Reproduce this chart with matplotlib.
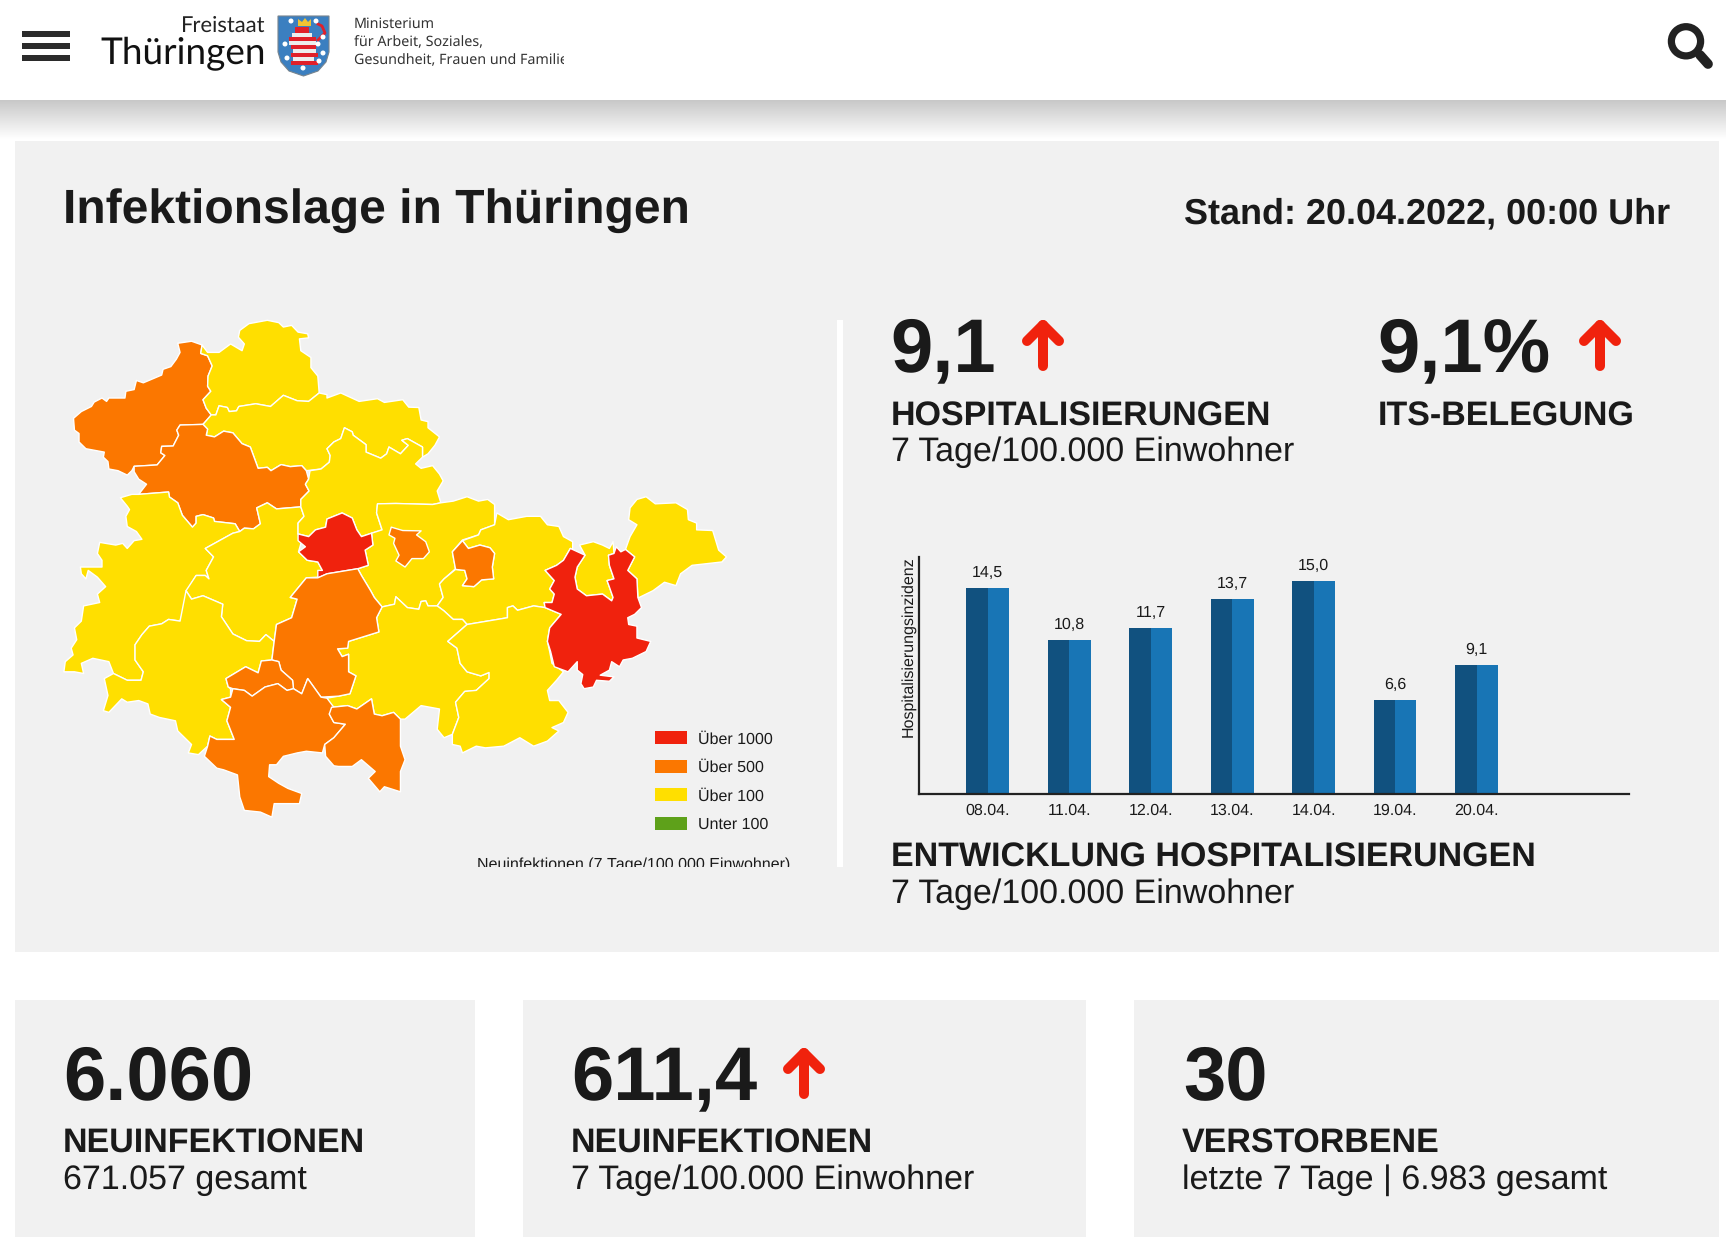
import numpy as np
import matplotlib
matplotlib.use("Agg")
import matplotlib.pyplot as plt
from matplotlib.patches import Polygon, Rectangle, Circle

W, H = 1726, 1245
FONT = "Liberation Sans"
INK = "#1A1A1A"
BG = "#F1F1F1"
RED, ORANGE, YELLOW, GREEN = "#F0220D", "#FB7700", "#FFDF00", "#5EA11A"

# ---- bar chart data
dates = ["08.04.", "11.04.", "12.04.", "13.04.", "14.04.", "19.04.", "20.04."]
hosp_values = [14.5, 10.8, 11.7, 13.7, 15.0, 6.6, 9.1]

# ---- legend
legend_labels = ["Über 1000", "Über 500", "Über 100", "Unter 100"]
legend_colors = [RED, ORANGE, YELLOW, GREEN]

# ---- map: district outlines (map units)
eichsfeld = [(300,128),(330,122),(353,133),(350,158),(365,165),(375,195),(366,225),(365,255),(372,270),(355,295),(362,320),(373,340),(355,368),(305,370),(298,385),(302,400),(290,432),(265,433),(263,452),(272,460),(255,488),(205,492),(200,505),(190,518),(170,505),(150,500),(148,478),(138,465),(140,450),(100,440),(85,420),(85,395),(75,385),(73,350),(90,330),(112,315),(118,302),(135,290),(145,300),(150,290),(185,290),(187,270),(205,265),(210,238),(225,245),(265,222),(268,205),(285,197),(297,175),(305,155)]
nordhausen = [(353,133),(365,155),(390,155),(415,130),(440,150),(445,130),(432,110),(435,90),(455,70),(495,60),(520,67),(530,80),(548,75),(562,95),(583,100),(585,112),(565,115),(568,150),(590,170),(590,200),(605,225),(608,275),(585,300),(560,298),(530,282),(502,315),(470,307),(433,315),(428,328),(412,330),(408,318),(390,313),(383,340),(373,340),(362,320),(355,295),(372,270),(365,255),(366,225),(375,195),(365,165),(350,158)]
kyffhaeuser = [(355,368),(373,340),(383,340),(390,313),(408,318),(412,330),(428,328),(433,315),(470,307),(502,315),(530,282),(560,298),(585,300),(608,275),(625,280),(625,290),(655,275),(695,300),(735,292),(750,303),(790,295),(803,317),(825,318),(830,355),(845,360),(845,378),(870,405),(860,430),(845,455),(833,465),(833,435),(800,410),(788,415),(802,430),(785,455),(760,435),(755,455),(742,468),(710,450),(710,428),(682,400),(680,390),(663,378),(655,410),(640,420),(625,440),(632,460),(630,480),(612,500),(580,505),(570,490),(545,493),(525,487),(503,505),(495,495),(475,498),(458,435),(440,425),(420,393),(400,388),(380,405),(362,400),(365,382)]
unstrut = [(355,368),(365,382),(362,400),(380,405),(400,388),(420,393),(440,425),(458,435),(475,498),(495,495),(503,505),(525,487),(545,493),(570,490),(580,505),(585,530),(578,545),(586,565),(568,590),(568,612),(515,618),(495,600),(472,615),(480,662),(465,677),(445,675),(435,685),(425,662),(380,655),(378,645),(355,635),(340,640),(340,660),(332,672),(310,637),(300,600),(282,583),(280,568),(215,575),(232,545),(215,530),(205,508),(205,492),(255,488),(272,460),(263,452),(265,433),(290,432),(302,400),(298,385),(305,370)]
wartburg = [(215,575),(200,575),(175,585),(190,610),(195,620),(187,640),(190,670),(210,685),(222,708),(205,712),(190,735),(180,720),(165,725),(130,717),(125,750),(135,770),(135,790),(105,790),(88,790),(90,810),(100,825),(105,800),(125,820),(143,848),(125,870),(130,895),(95,905),(90,950),(75,970),(80,1005),(68,1030),(72,1050),(55,1070),(52,1100),(75,1100),(95,1105),(90,1075),(115,1060),(150,1070),(160,1105),(190,1125),(220,1125),(225,1100),(207,1065),(207,1020),(222,990),(238,965),(265,958),(280,945),(305,950),(318,890),(320,860),(340,815),(360,815),(368,825),(362,800),(378,760),(360,735),(420,690),(435,685),(425,662),(380,655),(378,645),(355,635),(340,640),(340,660),(332,672),(310,637),(300,600),(282,583),(280,568)]
gotha = [(435,685),(445,675),(465,677),(480,662),(472,615),(495,600),(515,618),(568,612),(575,640),(562,660),(562,690),(570,712),(563,745),(582,770),(605,775),(615,800),(605,820),(580,822),(545,880),(560,885),(548,940),(515,960),(510,1010),(492,990),(478,1010),(450,1008),(420,988),(395,937),(398,900),(355,875),(330,885),(318,860),(340,815),(360,815),(368,825),(362,800),(378,760),(360,735),(420,690)]
erfurt = [(658,630),(680,645),(690,680),(700,700),(722,690),(725,725),(708,740),(715,785),(692,795),(625,810),(605,822),(605,800),(615,800),(605,775),(582,770),(563,745),(578,730),(562,712),(562,692),(585,700),(600,680),(622,672),(625,648)]
soemmerda = [(663,378),(680,390),(682,400),(710,428),(710,450),(742,468),(755,455),(760,435),(785,455),(802,430),(788,415),(800,410),(833,435),(833,465),(818,485),(830,498),(855,490),(870,515),(878,535),(865,565),(873,600),(855,605),(775,602),(735,603),(733,630),(745,680),(722,690),(700,700),(690,680),(680,645),(658,630),(625,648),(622,672),(600,680),(585,700),(562,692),(562,660),(575,640),(568,612),(568,590),(586,565),(578,545),(585,530),(588,505),(612,500),(630,480),(632,460),(625,440),(640,420),(655,410)]
weimarer_land = [(735,603),(775,602),(855,605),(873,600),(900,595),(930,582),(955,595),(975,590),(990,605),(990,665),(960,680),(955,695),(920,710),(898,745),(905,795),(880,825),(870,840),(878,880),(865,905),(845,905),(840,890),(830,892),(825,915),(800,910),(775,878),(772,900),(745,908),(728,880),(720,860),(700,815),(692,795),(715,785),(708,740),(725,725),(722,690),(745,680),(733,630)]
weimar = [(765,672),(790,682),(830,683),(820,695),(840,715),(848,745),(835,765),(810,765),(795,790),(775,772),(782,755),(770,720),(773,705),(760,695)]
jena = [(920,712),(933,735),(958,725),(980,733),(990,750),(985,790),(988,825),(962,828),(945,848),(920,845),(930,825),(925,800),(905,797),(898,745)]
saale_holzland = [(990,665),(995,630),(1020,650),(1060,640),(1090,640),(1105,665),(1130,670),(1140,700),(1160,715),(1160,740),(1155,735),(1140,770),(1125,785),(1100,800),(1120,830),(1110,855),(1120,870),(1115,895),(1098,895),(1100,910),(1075,905),(1040,918),(1030,905),(1018,910),(1018,940),(930,960),(920,945),(900,945),(880,920),(865,905),(878,880),(870,840),(880,825),(905,797),(925,800),(930,825),(920,845),(945,848),(962,828),(988,825),(985,790),(990,750),(980,733),(958,725),(933,735),(920,712),(955,695),(960,680)]
ilm_kreis = [(625,810),(692,795),(700,815),(720,860),(728,880),(745,908),(733,940),(738,982),(672,1010),(670,1030),(648,1032),(658,1055),(672,1048),(672,1100),(688,1112),(675,1165),(650,1172),(612,1175),(583,1120),(570,1165),(552,1150),(550,1125),(525,1095),(520,1070),(505,1065),(510,1010),(515,960),(548,940),(560,885),(545,880),(580,822),(605,822)]
schmalkalden = [(318,860),(330,885),(355,875),(398,900),(395,937),(420,988),(450,1008),(478,1010),(492,990),(510,1010),(505,1065),(482,1068),(475,1103),(448,1085),(405,1120),(410,1145),(415,1150),(415,1175),(395,1182),(415,1205),(407,1245),(423,1300),(385,1300),(370,1290),(365,1320),(345,1345),(323,1340),(330,1315),(300,1275),(295,1245),(260,1235),(240,1225),(235,1195),(215,1185),(190,1190),(178,1180),(150,1220),(138,1215),(148,1170),(140,1120),(160,1105),(190,1125),(220,1125),(225,1100),(207,1065),(207,1020),(222,990),(238,965),(265,958),(280,945),(305,950)]
suhl = [(405,1120),(448,1085),(475,1103),(482,1068),(505,1065),(520,1070),(525,1095),(550,1125),(552,1150),(538,1155),(518,1135),(490,1145),(462,1172),(445,1155),(420,1150),(410,1145)]
hildburghausen = [(420,1150),(445,1155),(462,1172),(490,1145),(518,1135),(538,1155),(552,1150),(570,1165),(583,1120),(612,1175),(625,1178),(640,1205),(630,1225),(640,1250),(665,1255),(640,1295),(620,1315),(615,1340),(580,1335),(560,1340),(530,1350),(515,1375),(500,1375),(498,1410),(520,1430),(540,1445),(570,1460),(565,1490),(540,1490),(510,1490),(505,1530),(480,1515),(445,1510),(435,1470),(430,1405),(400,1390),(385,1385),(358,1350),(365,1320),(370,1290),(385,1300),(423,1300),(407,1245),(415,1205),(395,1182),(415,1175)]
sonneberg = [(635,1205),(670,1200),(690,1210),(722,1180),(728,1225),(745,1230),(770,1220),(785,1240),(785,1320),(795,1360),(785,1395),(785,1455),(750,1440),(740,1455),(715,1415),(730,1395),(700,1360),(680,1380),(650,1380),(640,1378),(622,1350),(620,1315),(640,1295),(665,1255),(640,1250),(630,1225)]
saalfeld = [(745,908),(772,900),(775,878),(800,910),(825,915),(830,892),(840,890),(845,905),(865,905),(880,920),(900,945),(920,945),(930,960),(888,1010),(908,1030),(915,1075),(930,1100),(960,1112),(978,1102),(978,1120),(950,1155),(925,1158),(905,1190),(912,1235),(898,1285),(880,1295),(865,1270),(870,1210),(830,1200),(795,1240),(785,1240),(770,1220),(745,1230),(728,1225),(722,1180),(690,1210),(670,1200),(635,1205),(625,1178),(650,1172),(675,1165),(688,1112),(672,1100),(672,1048),(658,1055),(648,1032),(670,1030),(672,1010),(738,982),(733,940)]
saale_orla = [(930,960),(1018,940),(1018,910),(1030,905),(1040,918),(1075,905),(1100,910),(1135,930),(1110,970),(1105,1010),(1110,1040),(1115,1075),(1140,1100),(1125,1125),(1105,1155),(1110,1185),(1130,1185),(1150,1220),(1140,1250),(1115,1265),(1130,1275),(1105,1305),(1075,1320),(1045,1295),(1010,1320),(970,1325),(950,1320),(920,1340),(915,1320),(898,1315),(898,1285),(912,1235),(905,1190),(925,1158),(950,1155),(978,1120),(978,1102),(960,1112),(930,1100),(915,1075),(908,1030),(888,1010)]
greiz = [(1155,735),(1187,755),(1170,790),(1165,820),(1170,855),(1190,875),(1225,870),(1245,890),(1248,880),(1235,830),(1250,825),(1240,785),(1238,755),(1250,750),(1255,730),(1265,745),(1275,738),(1295,760),(1280,800),(1300,825),(1302,880),(1310,910),(1295,930),(1280,940),(1282,960),(1300,965),(1300,1000),(1330,1010),(1320,1040),(1290,1060),(1270,1065),(1262,1085),(1245,1070),(1240,1095),(1220,1110),(1250,1115),(1240,1128),(1212,1125),(1205,1145),(1185,1150),(1178,1135),(1182,1108),(1170,1095),(1170,1070),(1150,1100),(1120,1085),(1112,1040),(1105,1010),(1110,970),(1135,930),(1100,910),(1098,895),(1115,895),(1120,870),(1110,855),(1120,830),(1100,800),(1125,785),(1140,770)]
gera = [(1175,725),(1205,715),(1225,725),(1240,735),(1248,715),(1250,750),(1238,755),(1240,785),(1250,825),(1235,830),(1248,880),(1245,890),(1225,870),(1190,875),(1170,855),(1165,820),(1170,790),(1187,755)]
altenburg = [(1295,760),(1275,738),(1285,700),(1300,665),(1282,650),(1285,615),(1300,590),(1320,582),(1340,603),(1385,600),(1410,620),(1412,650),(1430,660),(1430,680),(1465,682),(1478,740),(1495,760),(1485,775),(1420,785),(1395,810),(1385,845),(1360,835),(1335,860),(1305,880),(1302,880),(1300,825),(1280,800)]

districts = [
    (eichsfeld, ORANGE), (nordhausen, YELLOW), (kyffhaeuser, YELLOW), (unstrut, ORANGE),
    (wartburg, YELLOW), (gotha, YELLOW), (soemmerda, YELLOW), (weimarer_land, YELLOW),
    (saale_holzland, YELLOW), (schmalkalden, YELLOW), (saalfeld, YELLOW), (saale_orla, YELLOW),
    (gera, YELLOW), (altenburg, YELLOW), (erfurt, RED), (weimar, ORANGE), (jena, ORANGE),
    (ilm_kreis, ORANGE), (suhl, ORANGE), (hildburghausen, ORANGE), (sonneberg, ORANGE),
    (greiz, RED),
]

plt.rcParams["font.family"] = [FONT, "DejaVu Sans"]
plt.rcParams["text.hinting"] = "no_hinting"
plt.rcParams["text.hinting_factor"] = 1
fig = plt.figure(figsize=(W / 100, H / 100), dpi=100, facecolor="white")


def px_axes(x0, y0, x1, y1):
    return fig.add_axes([x0 / W, 1 - y1 / H, (x1 - x0) / W, (y1 - y0) / H])


# ---- page canvas in pixels
page = fig.add_axes([0, 0, 1, 1])
page.axis("off")
grad = np.linspace(0, 1, 40).reshape(-1, 1)
page.imshow(grad, extent=(0, W, 140, 100), aspect="auto", cmap="gray",
            vmin=-3.6, vmax=1, interpolation="bilinear", zorder=0)
page.set_xlim(0, W)
page.set_ylim(H, 0)
for x0, y0, x1, y1 in [(15, 141, 1719, 952), (15, 1000, 475, 1237),
                       (523, 1000, 1086, 1237), (1134, 1000, 1719, 1237)]:
    page.add_patch(Rectangle((x0, y0), x1 - x0, y1 - y0, fc=BG, ec="none", zorder=1))
page.add_patch(Rectangle((837, 320), 6, 547, fc="white", ec="none", zorder=2))


def txt(x, y, s, size, bold=False, ha="left", color=INK, **kw):
    return page.text(x, y, s, fontsize=size, fontweight="bold" if bold else "normal",
                     ha=ha, va="baseline", color=color, zorder=5, **kw)


def arrow(x, top, bottom):
    w = 16
    for xs, ys in [([x, x], [top + 5, bottom - 5]),
                   ([x - w, x, x + w], [top + w + 5, top + 5, top + w + 5])]:
        page.plot(xs, ys, color=RED, lw=7.2, solid_capstyle="round",
                  solid_joinstyle="round", zorder=5)


# ---- header
for y in (31, 43, 55):
    page.add_patch(Rectangle((22, y), 48, 6, fc="#2B2B2B", ec="none", zorder=5))
txt(266, 32, "Freistaat", 15.5, ha="right", family="Lato", color="#222222")
page.text(266, 64, "Thüringen", fontsize=26.5, ha="right", va="baseline", family="Lato",
          color="#111111", zorder=5)
clip_rect = Rectangle((340, 0), 224, 100, transform=page.transData)
for yy, line in zip((28, 46.5, 64), ("Ministerium", "für Arbeit, Soziales,",
                                     "Gesundheit, Frauen und Familie")):
    t = txt(354, yy, line, 10.3, family="Noto Sans", color="#333333")
    t.set_clip_path(clip_rect)
    t.set_clip_on(True)

# coat of arms
shield_outline = [(278, 16), (329, 16), (329, 52), (326, 62), (318, 71), (303.5, 76),
                  (289, 71), (281, 62), (278, 52)]
shield = Polygon(shield_outline, closed=True, fc="#3B7FC0", ec="#77848E", lw=0.8, zorder=5)
page.add_patch(shield)
for y0, h, c, xa, xb in [(27, 6, "#E0202A", 295, 309), (33, 4, "#EDEDED", 292, 312),
                         (37, 4, "#E0202A", 289, 316), (41, 4, "#EDEDED", 289, 316),
                         (45, 4, "#E0202A", 291, 316), (49, 4, "#EDEDED", 293, 316),
                         (53, 4, "#E0202A", 291, 318), (57, 4, "#EDEDED", 293, 314),
                         (61, 4, "#E0202A", 291, 318)]:
    page.add_patch(Rectangle((xa, y0), xb - xa, h, fc=c, ec="none", zorder=6))
page.add_patch(Polygon([(298, 26), (298, 19), (302, 22), (305, 18), (308, 22), (311, 19), (311, 26)],
                       fc="#F1C232", ec="none", zorder=6))
page.plot([318, 325, 322, 318], [40, 33, 26, 24], color="#E0202A", lw=2, zorder=6)
for sx, sy in [(291, 21), (316, 21), (323, 37), (285, 44), (318, 44), (323, 53),
               (287, 58), (303, 68), (319, 61)]:
    page.add_patch(Circle((sx, sy), 2.5, fc="white", ec="none", zorder=7))

# search icon
page.add_patch(Circle((1686, 41.3), 14.6, fc="none", ec="#222222", lw=5.2, zorder=5))
page.plot([1700, 1708], [55, 64], color="#222222", lw=7, solid_capstyle="round", zorder=5)

# ---- panel titles
txt(63, 223, "Infektionslage in Thüringen", 34.5, bold=True)
txt(1670, 223, "Stand: 20.04.2022, 00:00 Uhr", 25.8, bold=True, ha="right")

BIG, BOLD, PLAIN = 54.7, 24.4, 24.6
txt(890, 371, "9,1", BIG, bold=True)
arrow(1043, 320, 371)
txt(891, 426, "HOSPITALISIERUNGEN", BOLD, bold=True)
txt(891, 461, "7 Tage/100.000 Einwohner", PLAIN)
txt(1377, 371, "9,1%", BIG, bold=True)
arrow(1600, 320, 371)
txt(1378, 426, "ITS-BELEGUNG", BOLD, bold=True)
txt(891, 867, "ENTWICKLUNG HOSPITALISIERUNGEN", BOLD, bold=True)
txt(891, 903, "7 Tage/100.000 Einwohner", PLAIN)

txt(63, 1099, "6.060", BIG, bold=True)
txt(63, 1153, "NEUINFEKTIONEN", BOLD, bold=True)
txt(63, 1189, "671.057 gesamt", PLAIN)
txt(571, 1099, "611,4", BIG, bold=True)
arrow(804, 1048, 1099)
txt(571, 1153, "NEUINFEKTIONEN", BOLD, bold=True)
txt(571, 1189, "7 Tage/100.000 Einwohner", PLAIN)
txt(1183, 1099, "30", BIG, bold=True)
txt(1182, 1153, "VERSTORBENE", BOLD, bold=True)
txt(1182, 1189, "letzte 7 Tage | 6.983 gesamt", PLAIN)

# ---- map
ax_map = px_axes(40, 300, 760, 830)
ax_map.set_xlim(0, 1568)
ax_map.set_ylim(1568, 0)
ax_map.axis("off")
for outline, colour in districts:
    ax_map.add_patch(Polygon(outline, closed=True, fc=colour, ec="white", lw=1.0,
                             joinstyle="round"))

# legend
for i, (lab, col) in enumerate(zip(legend_labels, legend_colors)):
    y = 731 + i * 28.5
    page.add_patch(Rectangle((655, y), 32, 13, fc=col, ec="none", zorder=5))
    txt(698, y + 12.5, lab, 11.5)
legend_note = txt(477, 868.5, "Neuinfektionen (7 Tage/100.000 Einwohner)", 11.5)
legend_note.set_clip_path(Rectangle((470, 840), 340, 27, transform=page.transData))
legend_note.set_clip_on(True)

# ---- bar chart
ax_bar = px_axes(919, 557, 1629, 794)
ax_bar.patch.set_alpha(0)
pos = np.arange(len(dates))
half = 0.262
ax_bar.bar(pos - half / 2, hosp_values, half, color="#11517F", edgecolor="none")
ax_bar.bar(pos + half / 2, hosp_values, half, color="#1875B5", edgecolor="none")
ax_bar.set_xlim(-0.843, 7.87)
ax_bar.set_ylim(0, 16.67)
for sp in ("top", "right"):
    ax_bar.spines[sp].set_visible(False)
for sp in ("left", "bottom"):
    ax_bar.spines[sp].set_linewidth(1.6)
    ax_bar.spines[sp].set_color("#222222")
ax_bar.set_yticks([])
ax_bar.set_xticks(pos, dates, fontsize=11.5, color=INK)
ax_bar.tick_params(axis="x", length=0, pad=7)
for p, v in zip(pos, hosp_values):
    ax_bar.annotate(f"{v:.1f}".replace(".", ","), (p, v), xytext=(0, 8),
                    textcoords="offset points", ha="center", va="baseline",
                    fontsize=11.5, color=INK)
page.text(916, 556, "Hospitalisierungsinzidenz", fontsize=11.8, rotation=90,
          ha="right", va="top", color=INK, zorder=5)

fig.savefig("out.png", dpi=100, facecolor="white")
